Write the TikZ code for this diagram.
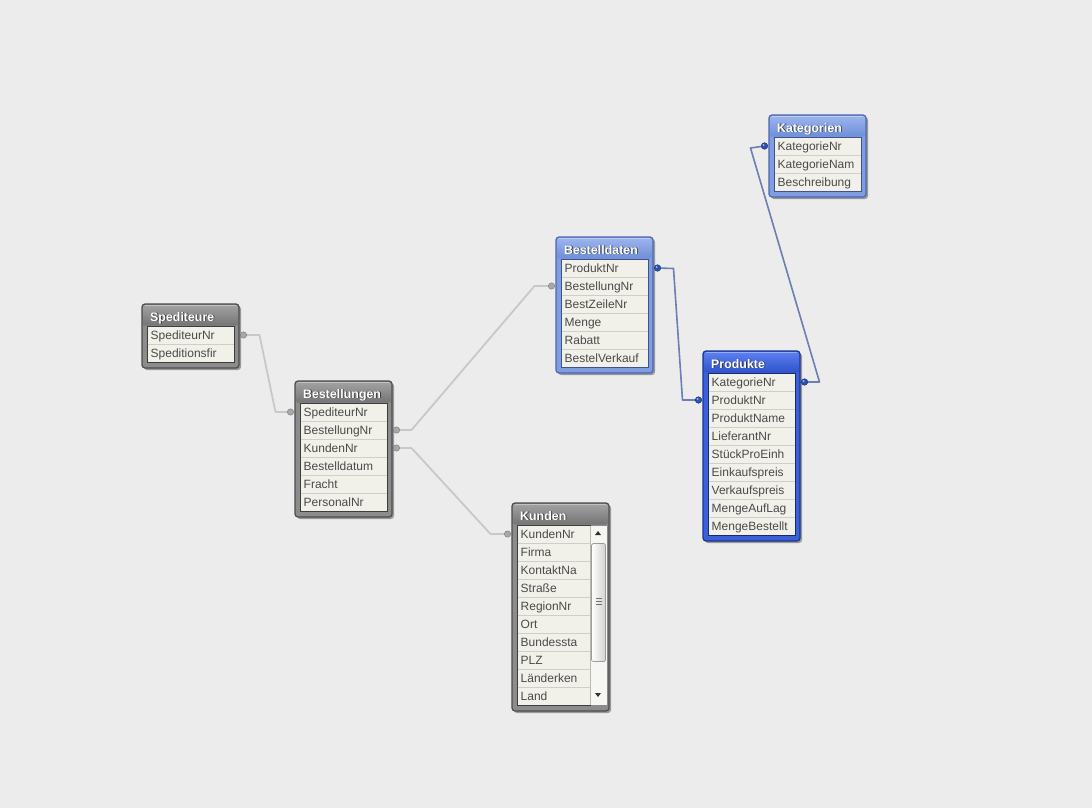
\documentclass[tikz,border=0pt]{standalone}
\usepackage{fontspec}
\setmainfont{Liberation Sans}
\usetikzlibrary{calc}

% colour schemes: g = grey, l = light blue, d = dark blue
\definecolor{bgcol}{HTML}{ECECEC}
\definecolor{gtop}{HTML}{A2A2A2}\definecolor{gbot}{HTML}{747474}
\definecolor{gside}{HTML}{8C8C8C}\definecolor{gedge}{HTML}{4C4C4C}
\definecolor{ltop}{HTML}{9CB4EE}\definecolor{lbot}{HTML}{6E8ED8}
\definecolor{lside}{HTML}{809DE2}\definecolor{ledge}{HTML}{4E66AE}
\definecolor{dtop}{HTML}{5C80F2}\definecolor{dbot}{HTML}{2E52C8}
\definecolor{dside}{HTML}{3B61D8}\definecolor{dedge}{HTML}{1C348E}
\definecolor{rowbg}{HTML}{F1F1EA}
\definecolor{rowsep}{HTML}{CFCFC8}
\definecolor{rowtxt}{HTML}{4A4A4A}
\definecolor{linkgrey}{HTML}{C8C8C8}
\definecolor{dotgrey}{HTML}{A8A8A8}
\definecolor{linkblue}{HTML}{6C7EB2}
\definecolor{dotblue}{HTML}{2A52B4}
\definecolor{sbtrack}{HTML}{F6F6F3}
\definecolor{sbline}{HTML}{B8B8B4}
\definecolor{sbarrow}{HTML}{303030}
\definecolor{sbthumb}{HTML}{D2D2D0}
\definecolor{sbthumbedge}{HTML}{9C9C9A}
\definecolor{sbgrip}{HTML}{707070}

\tikzset{
  rowtext/.style={anchor=base west,inner sep=0pt,text=rowtxt,font=\fontsize{12}{13}\selectfont},
  titletext/.style={anchor=base west,inner sep=0pt,font=\fontsize{12.4}{13}\bfseries},
  greylink/.style={draw=linkgrey,line width=1.8pt,line join=round},
  bluelink/.style={draw=linkblue,line width=1.6pt,line join=round},
  greydot/.style={fill=dotgrey,draw=dotgrey!70!black,line width=0.4pt},
  bluedot/.style={fill=dotblue,draw=dotblue!60!black,line width=0.4pt},
}

% #1 id, #2 left, #3 top, #4 scheme, #5 title, #6 rows, #7 row area width, #8 row texts
\newcommand\dbtable[8]{%
  \pgfmathsetmacro\tabh{22+18*#6+6}
  \fill[black,opacity=.35,rounded corners=3pt] (#2+2,#3+2) rectangle ++(97,\tabh);
  \draw[rounded corners=3pt,fill=#4side,draw=#4edge,line width=1.2pt] (#2,#3) rectangle ++(97,\tabh);
  \shade[top color=#4top,bottom color=#4bot,rounded corners=2pt] (#2+1,#3+1) rectangle (#2+96,#3+21.5);
  \draw[white,opacity=.35,line width=.6pt] (#2+3,#3+1.6) -- (#2+94,#3+1.6);
  \draw[fill=rowbg,draw=#4edge!80!black,line width=.8pt] (#2+5,#3+22) rectangle ++(#7,18*#6);
  \foreach \k in {1,...,#6}{%
    \ifnum\k<#6\relax
      \draw[rowsep,line width=.9pt] (#2+5.5,#3+22+18*\k) -- ++(#7-1,0);
    \fi}
  \node[titletext,text=black!80] (#1-shadow) at (#2+8.8,#3+17.8) {#5};
  \node[titletext,text=white] (#1-title) at (#2+8,#3+17) {#5};
  \foreach \t [count=\i] in {#8}{%
    \node[rowtext] (#1-\i) at (#2+8.5,#3+17.3+18*\i) {\t};
    \coordinate (#1-\i-l) at (#2-4.5,#3+13+18*\i);
    \coordinate (#1-\i-r) at (#2+101.5,#3+13+18*\i);
  }%
}

\begin{document}
\begin{tikzpicture}[x=1pt,y=-1pt]
\useasboundingbox (0,0) rectangle (1092,808);
\fill[bgcol] (0,0) rectangle (1092,808);

% tables
\dbtable{spe}{142}{304}{g}{Spediteure}{2}{87}{SpediteurNr,Speditionsfir}
\dbtable{bes}{295}{381}{g}{Bestellungen}{6}{87}{SpediteurNr,BestellungNr,KundenNr,Bestelldatum,Fracht,PersonalNr}
\dbtable{bda}{556}{237}{l}{Bestelldaten}{6}{87}{ProduktNr,BestellungNr,BestZeileNr,Menge,Rabatt,BestelVerkauf}
\dbtable{kun}{512}{503}{g}{Kunden}{10}{73}{KundenNr,Firma,KontaktNa,Straße,RegionNr,Ort,Bundessta,PLZ,Länderken,Land}
\dbtable{pro}{703}{351}{d}{Produkte}{9}{87}{KategorieNr,ProduktNr,ProduktName,LieferantNr,StückProEinh,Einkaufspreis,Verkaufspreis,MengeAufLag,MengeBestellt}
\dbtable{kat}{769}{115}{l}{Kategorien}{3}{87}{KategorieNr,KategorieNam,Beschreibung}

% scroll bar of the Kunden list
\fill[sbtrack] (590.5,525.5) rectangle (606.5,704.5);
\draw[sbline,line width=.5pt] (590.5,525.5) -- (590.5,704.5);
\fill[sbarrow] (595,535) -- (598,531) -- (601,535) -- cycle;
\fill[sbarrow] (595,693) -- (598,697) -- (601,693) -- cycle;
\shade[left color=white,right color=sbthumb,rounded corners=1.5pt] (591.5,543.5) rectangle (605.5,661.5);
\draw[sbthumbedge,line width=.7pt,rounded corners=1.5pt] (591.5,543.5) rectangle (605.5,661.5);
\foreach \yy in {598.5,601.5,604.5}
  \draw[sbgrip,line width=.7pt] (595.5,\yy) -- (601.5,\yy);

% grey links
\draw[greylink] (spe-1-r) -- ++(16,0) -- ($(bes-1-l)+(-15,0)$) -- (bes-1-l);
\draw[greylink] (bes-2-r) -- ++(15,0) -- ($(bda-2-l)+(-17,0)$) -- (bda-2-l);
\draw[greylink] (bes-3-r) -- ++(15,0) -- ($(kun-1-l)+(-17,0)$) -- (kun-1-l);
\foreach \p in {spe-1-r,bes-1-l,bes-2-r,bda-2-l,bes-3-r,kun-1-l}
  \draw[greydot] (\p) circle (3.2);

% blue links
\draw[bluelink] (bda-1-r) -- ++(16,0.5) -- ($(pro-2-l)+(-16,0)$) -- (pro-2-l);
\draw[bluelink] (pro-1-r) -- ++(15,0) -- ($(kat-1-l)+(-14,2)$) -- (kat-1-l);
\foreach \p in {bda-1-r,pro-2-l,pro-1-r,kat-1-l}{
  \draw[bluedot] (\p) circle (3.3);
  \fill[white,opacity=.6] ($(\p)+(-1,-1)$) circle (1);
}
\end{tikzpicture}
\end{document}
